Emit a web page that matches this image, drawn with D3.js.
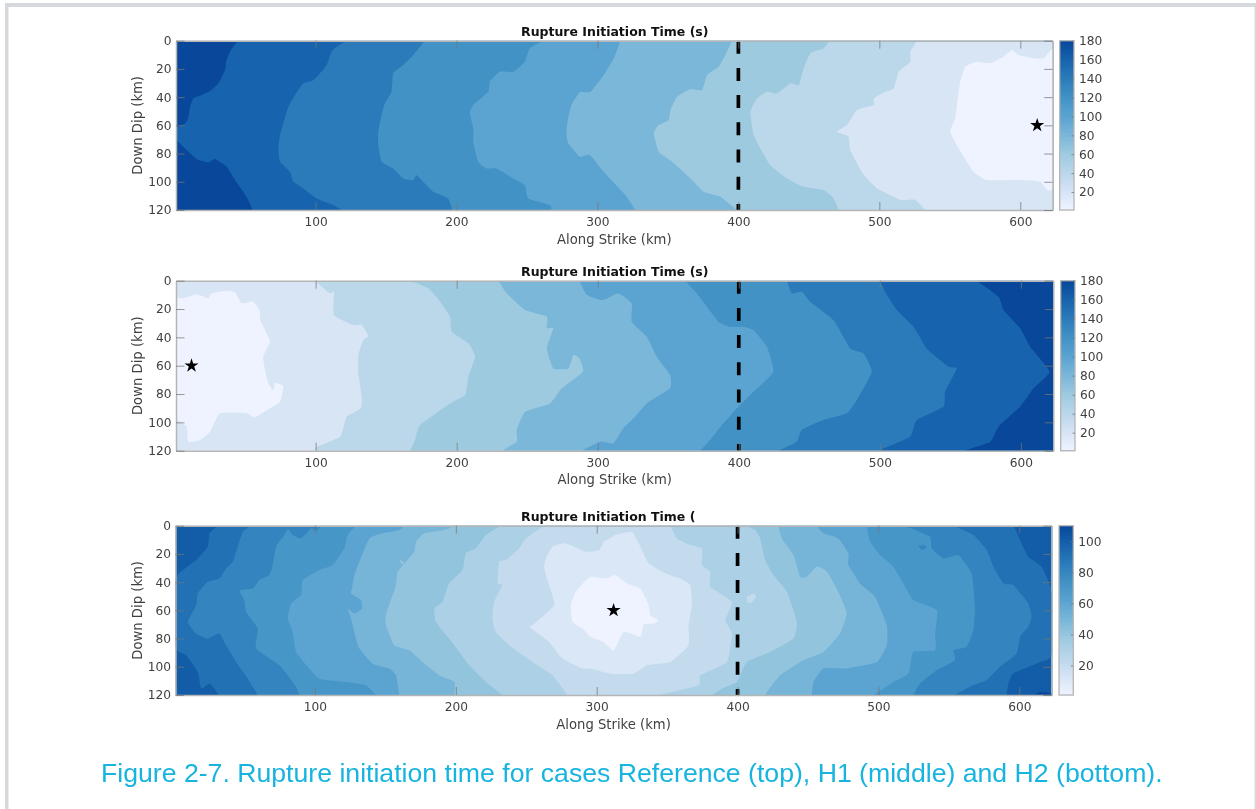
<!DOCTYPE html>
<html>
<head>
<meta charset="utf-8">
<script src="https://cdn.jsdelivr.net/npm/d3@7"></script>
<style>
  html, body { margin: 0; padding: 0; background: #fff; overflow: hidden; }
  #chart { width: 1256px; height: 809px; }
  svg { display: block; filter: blur(0.45px); }
  .axis text { font-family: "DejaVu Sans", sans-serif; font-size: 12.2px; fill: #404040; }
  .label { font-family: "DejaVu Sans", sans-serif; font-size: 13.2px; fill: #404040; }
  .title { font-family: "DejaVu Sans", sans-serif; font-size: 12.5px; font-weight: bold; fill: #111; }
  .caption { font-family: "Liberation Sans", sans-serif; font-size: 26.65px; fill: #18b4e0; }
  .axis path, .axis line { stroke: #777; stroke-opacity: 0.75; }
  .axis path { stroke: #b5b5b5; stroke-opacity: 1; stroke-width: 1.5; }
</style>
</head>
<body>
<div id="chart"></div>
<script>
'use strict';

const X_TICKS = [100, 200, 300, 400, 500, 600];
const Y_TICKS = [0, 20, 40, 60, 80, 100, 120];
const CBAR_TICKS_180 = [20, 40, 60, 80, 100, 120, 140, 160, 180];
const CBAR_TICKS_110 = [20, 40, 60, 80, 100];
const BLUES = ['#eff3ff', '#d6e4f5', '#bad6ea', '#9dcae0', '#7ab6d9', '#5aa3d1', '#4292c6', '#2b7bba', '#1763ad', '#08479a'];
const RIGHT_EDGE = [[623, 120], [623, 0]];
const SEGMENT_BOUNDARY_KM = 400;
const HYPOCENTRE_DEPTH = 60;

// Reference case: time levels and contour lines [along strike, down dip], from the left side
const refLevels = [160, 140, 120, 100, 80, 60, 40, 20];
const refLines = [
  [[44.7,0],[39.3,7.8],[36.5,14.9],[35.8,20.8],[31,30.3],[25,35.7],[19.2,38.5],[13.3,40.9],[11,46.8],[9.7,55],[7.4,58.6],[1,62],[1,69.7],[7.4,76.4],[15.7,83.9],[24,86.3],[28.7,83.9],[37,89.4],[42.8,98.8],[51,110.6],[55.4,120]],
  [[122,0],[115,4.3],[111.4,7.8],[107.9,17.2],[103.1,23.2],[98.4,28],[91.3,30.3],[85.4,38.5],[80.7,46.8],[77.1,58.6],[74.8,66.9],[73.6,76.4],[74.8,85.8],[81.8,92.9],[84.2,100],[91.3,104.7],[100.8,111.8],[112.6,116.5],[118.5,120]],
  [[177.6,0],[169.3,10.2],[162.2,17.3],[155.1,23.2],[153.9,36.2],[149.2,44.4],[146.9,52.7],[144.5,64.5],[144.5,73.9],[146.9,85.8],[155.1,90.6],[162.2,97.6],[169.3,98.8],[171.7,95.3],[178.8,102.4],[183.5,107],[194.1,111.8],[197,120]],
  [[261.5,0],[252,5.4],[248.5,14.9],[240.2,22],[230.8,22],[223.7,29],[222.5,36.2],[211.9,45.6],[209.5,51.5],[211.9,62.2],[211.9,71.6],[215.4,85.8],[221.3,90.6],[228.4,90.6],[240.2,97.6],[248.5,102.4],[250.9,111.8],[266.2,116.5],[267.4,120]],
  [[316.3,0],[311.6,12.5],[304.5,24.3],[295,36.2],[287.5,36.6],[281.6,45.6],[279.2,55],[278,64.5],[279.2,72.7],[287.5,82.2],[294.6,81],[304.5,93],[319.9,109.5],[327,120]],
  [[395.5,0],[390.8,10.2],[386,18.4],[377.8,24.3],[374.2,34.9],[366,34.2],[356.5,39.7],[351.8,49.1],[350.6,56.3],[343.5,59.8],[340,65.7],[343.5,78.7],[353,85.8],[366,97.6],[375.4,107],[387.2,110.6],[399,120]],
  [[464.5,0],[460.5,5.4],[451,9],[446.3,19.6],[442.8,31.4],[436.9,30.3],[427.4,37.4],[420.3,36.2],[413.2,40.9],[408.5,50.4],[410.9,66.9],[415.6,76.4],[422.7,88.2],[434.5,97.6],[446.3,103.5],[460.5,105.9],[467.6,111.8],[471.2,120]],
  [[526.7,0],[522,7.8],[522,14.9],[513.7,22],[510.2,33.8],[504.3,36.2],[496,40.9],[496,45.6],[484.2,49.2],[477.1,59.8],[470,64.5],[478.2,68],[479.4,77.4],[488.9,95.1],[498.3,104.5],[514.9,112.7],[525.5,112.7],[532.6,120]]
];
const refCore = [[623,5.4],[616.4,12.5],[609.3,12.5],[598.6,10.2],[594,6.6],[588,11.3],[578.6,16],[569.1,14.9],[561,18.4],[557.4,29],[555.1,45.6],[553.9,55],[550.3,64.5],[556.3,76.4],[566.9,92.9],[576.4,98.8],[600,98.8],[614.2,100],[618.9,105.9],[623,105.9]];

// H1 case
const h1Levels = [40, 60, 80, 100, 120, 140, 160, 180];
const h1Lines = [
  [[99.6,0],[110.2,8.9],[113,7.8],[113,24.3],[126.8,31.3],[132.7,31.3],[137.4,39],[133.9,41.9],[130.3,52.5],[130.3,65.4],[132.7,81.9],[132,90.2],[122,96],[117.3,110.1],[100.8,117.2],[99.6,120]],
  [[167,0],[180,5.4],[188.2,14.8],[195.3,25.4],[196.5,36],[208.3,44.2],[213,53.6],[208.3,67.8],[206,80.7],[195.3,86.6],[174,101.9],[170.5,112.5],[167,120]],
  [[229.6,0],[235.5,8.9],[248.5,20.7],[263.9,25.4],[263.9,33.6],[268.6,33.6],[263.9,47.8],[268.6,61.9],[279.2,61.9],[282.8,52.5],[287,54.8],[289.4,64.2],[274.5,76],[266.2,86.6],[248.5,92.5],[242.6,105.4],[242.6,113.6],[232,120]],
  [[287,0],[292.2,10],[301.7,13.6],[306.4,12.7],[314.7,8.9],[324.1,16],[324.1,29],[334.8,39.6],[341.8,53.6],[351.3,66.5],[351.3,76],[334.8,86.6],[326.5,96],[318.2,104.2],[311.1,114.8],[301.7,113.6],[288.7,120]],
  [[361.9,0],[370.2,8.9],[385.6,28.9],[393.9,32.5],[403.3,32.5],[410.4,34.8],[419.9,46.6],[424.6,64.2],[410.4,78.4],[399.8,88.9],[389.1,100.7],[379.7,112.5],[372.6,120]],
  [[434,0],[437.6,8.9],[444.7,7.8],[450.6,14.8],[467.1,27.8],[479,47.8],[488.4,51.3],[494.3,64.2],[483.7,84.2],[476.6,93.6],[460,98.4],[444.7,105.4],[441.1,113.6],[428.1,120]],
  [[500.2,0],[503.8,7.8],[512,20.7],[523.9,32.5],[533.3,47.8],[548.7,60.7],[554.6,61.9],[546.3,78.4],[545.1,88.9],[526.2,98.4],[521.5,110.1],[502.6,118.4],[502,120]],
  [[568.8,0],[584.2,11.3],[587.7,20.7],[599.5,33.6],[606.6,46.6],[620.3,64.2],[609,76],[599.5,88.9],[584.2,103],[578.3,113.6],[559.4,120]]
];
const h1Core = [[1,11.8],[6.2,12.5],[15.7,9.6],[23.9,12.5],[26.3,8.9],[36.9,7.1],[42.8,8.2],[47.6,16],[55.8,14.8],[60.6,21.9],[60.6,27.8],[64.1,34.8],[67.7,43],[62.9,53.6],[64.1,63.1],[66.5,72.5],[70,77.2],[71.2,72],[77.1,74.4],[74.8,85.4],[67.7,90.1],[57,96.5],[51.1,93.6],[32.2,93.6],[25.1,106.6],[18,112.5],[9.7,113.6],[8.6,103],[1,97.9]];

// H2 case: each level has a west and an east line, both listed from the top down
const h2Levels = [91, 81, 71, 61, 51, 41, 31, 21];
const h2West = [
  [[31,0],[25.1,5.4],[23.9,14.9],[15.7,24.4],[1,37.9],[1,85.9],[8.6,91.8],[16.8,103.7],[19.2,115.5],[25.1,112],[28.7,115.5],[31.5,120]],
  [[54.7,0],[48.8,4.3],[45.2,14.9],[41.7,25.6],[36.9,30.3],[32.2,37.4],[23.9,39.8],[16.8,48],[15.7,56.3],[9.7,68.2],[15.7,76.5],[23.9,80],[32.2,76.5],[36.9,84.8],[44,96.6],[52.3,108.4],[59.4,120]],
  [[104.3,0],[100.8,3.8],[97.2,1.9],[90.1,9],[84.2,6.6],[80.7,2.4],[78.3,6.6],[72.4,14.9],[70,27.9],[67.7,35],[60.6,38.6],[55.8,44.5],[46.4,45.7],[49.9,52.8],[51.1,61.1],[59.4,72.9],[58.2,87.1],[74.8,99],[86.6,114.3],[88.9,120]],
  [[129.1,0],[123.2,6.6],[120.9,16],[112.6,27.9],[103.1,31.4],[91.3,38.6],[90.1,49.2],[83,55.2],[80.7,65.8],[84.2,75.3],[86.6,89.5],[96,101.2],[103.1,108.4],[122,110.8],[136.2,113.1],[143.3,120]],
  [[163.4,0],[159.9,3],[148,5.4],[138.6,9],[131.5,25.6],[128,35],[126.3,44.5],[125.6,48],[132.7,52.8],[133.4,58.7],[128,62.3],[123.2,58.7],[125.6,65.8],[129.1,80],[131.5,87.1],[140.9,97.8],[152.8,101.3],[157.5,106],[159.9,120]],
  [[198.9,0],[191.8,3],[177.6,5.4],[171.7,11.4],[170.5,18.5],[164.6,25.6],[158.7,32.7],[157.5,42.2],[155.1,49.2],[150.4,63.4],[150.4,70.5],[156.3,84.7],[167,88.3],[176.4,96.6],[188.2,106],[198.9,110.8],[198.9,120]],
  [[232,0],[221.3,6.6],[214.2,16],[207.1,19.6],[204.8,31.4],[195.3,40.8],[190.6,53.9],[184.7,58.7],[185.9,68.2],[195.3,80],[202.4,89.5],[209.5,99],[221.3,110.8],[233.1,120]],
  [[262.7,0],[249.7,9],[245,16],[235.5,24.4],[230.8,25.6],[229.6,41],[233.1,42],[227.2,53.9],[226,65.8],[228.4,75.3],[237.9,84.7],[254.4,96.6],[268.6,106],[279.2,120]]
];
const h2East = [
  [[596.2,0],[600.5,10.2],[606.4,22],[615.8,29.1],[623,46.8],[623,91.7],[612.3,97.7],[595.7,104.7],[592.2,111.8],[591,120]],
  [[553.2,0],[567.4,6.6],[576.8,17.3],[581.6,29.1],[588.7,40.9],[595.7,42.1],[606.4,55.1],[608.7,64.6],[606.4,71.6],[600.5,78.7],[598.1,90.6],[586.3,100],[576.8,109.5],[567.4,113],[554.4,120]],
  [[515.4,0],[523.6,1.9],[536.6,7.8],[537.8,16],[546.1,23.2],[556.7,20.8],[566.2,33.8],[568.6,57.5],[567.4,74],[562.6,85.8],[553.2,88.2],[554.4,95.3],[541.4,102.4],[529.6,111.8],[524.8,120]],
  [[491.7,0],[494.1,11.4],[501.2,20.8],[510.6,29.1],[517.7,40.9],[524.8,52.7],[541.4,59.8],[540.2,76.4],[540.2,88.2],[524.8,89.4],[521.3,104.7],[510.6,110.7],[496.5,120]],
  [[456.3,0],[461,5.4],[471.6,9],[478.7,19.6],[478.7,27.9],[487,40.9],[497.6,50.4],[505.9,70.5],[505.9,84.7],[498.8,96.6],[477.5,101.2],[461,101.2],[453.9,110.7],[452.7,120]],
  [[429,0],[431.4,9],[439.7,20.8],[444.4,36.2],[449.2,36.2],[456.3,29],[463.4,32.5],[471.6,47],[477.5,62],[472.8,76.4],[461,89.5],[446.8,95.4],[430.3,106],[420.8,118],[419.6,120]],
  [[405.4,0],[412.5,3],[416.1,9],[419.6,24.4],[425.5,35],[435,46.9],[442.1,68.2],[439.7,80],[423.2,89.5],[406.6,96.6],[399.5,110.8],[390,115],[381.8,120]],
  [[352.2,0],[357,9],[366.4,13.7],[374.7,16.1],[374.7,27.9],[380.6,32.7],[380.6,43.3],[396,54],[391.3,67],[396,76.5],[392.4,96.6],[373.5,106],[372.3,113.1],[344,120]]
];
// closed rings around the hypocentre
const h2RingLevels = [11, 1];
const h2Rings = [
  [[313.2,6.6],[325.1,4.3],[331,14.9],[336.9,26.7],[348.7,33.8],[359.3,37.4],[366.4,42.1],[367.6,56.3],[365.2,70.5],[365.2,84.7],[352.2,96.6],[335.7,98.9],[326.2,104.9],[309.7,104.9],[295.5,101.3],[290,101.3],[275.7,94.2],[266.2,82.4],[252.1,71.7],[254.4,70.5],[269.8,56.3],[266.2,42.1],[262.7,30.3],[263.9,23.2],[268.6,14.9],[278,12.5],[292.2,18.5],[301.7,17.3],[305,11.4]],
  [[295.5,36.2],[307.3,37.4],[313.2,35],[321.5,40.9],[331,44.5],[336.9,56.3],[338.1,63.4],[343.9,67],[340.4,69.4],[333.3,70],[331,78.8],[319.2,75.3],[312.1,88.3],[304.9,82.4],[295.5,78.8],[290,72.9],[282.8,68.2],[281.6,56.3],[285.2,46.9],[292.2,38.6]]
];
// small isolated patches
const h2PatchLevels = [21, 81, 41, 110];
const h2Patches = [
  [[406.6,50.4],[411.3,48],[413.2,50.4],[410.1,54.4],[407,54.4]],
  [[528.4,14.4],[531.9,13.7],[534.3,15.4],[530.7,17.3]],
  [[160.3,24.4],[163.4,25.6],[162.2,27.5],[160.5,26.1]],
  [[611,120],[614,117.8],[619,118],[623,119],[623,120]]
];

const panels = [
  {
    title: 'Rupture Initiation Time (s)', box: { left: 176, right: 1052.7, top: 40.7, bottom: 210 },
    bar: { left: 1059.7, right: 1074 }, barMax: 180, barTicks: CBAR_TICKS_180,
    base: 180, star: 612,
    fills: refLines.map((l, i) => ({ level: refLevels[i], pieces: [l, RIGHT_EDGE] }))
      .concat([{ level: 1, pieces: [refCore] }])
  },
  {
    title: 'Rupture Initiation Time (s)', box: { left: 176, right: 1053.3, top: 280.7, bottom: 450.7 },
    bar: { left: 1060.7, right: 1075 }, barMax: 180, barTicks: CBAR_TICKS_180,
    base: 20, star: 12,
    fills: h1Lines.map((l, i) => ({ level: h1Levels[i], pieces: [l, RIGHT_EDGE] }))
      .concat([{ level: 1, pieces: [h1Core] }])
  },
  {
    title: 'Rupture Initiation Time (', box: { left: 175.5, right: 1051.7, top: 525.7, bottom: 695 },
    bar: { left: 1059, right: 1073.3 }, barMax: 110, barTicks: CBAR_TICKS_110,
    base: 101, star: 312,
    fills: h2West.map((l, i) => ({ level: h2Levels[i], pieces: [l, h2East[i].slice().reverse()] }))
      .concat(h2Rings.map((r, i) => ({ level: h2RingLevels[i], pieces: [r] })))
      .concat(h2Patches.map((p, i) => ({ level: h2PatchLevels[i], pieces: [p] })))
  }
];

const svg = d3.select('#chart').append('svg').attr('width', 1256).attr('height', 809);

// slide frame behind the figure
svg.append('rect').attr('x', 0).attr('y', 3).attr('width', 1256).attr('height', 4).attr('fill', '#d5d9dd');
svg.append('rect').attr('x', 5).attr('y', 3).attr('width', 3.5).attr('height', 806).attr('fill', '#d5d9dd');
svg.append('rect').attr('x', 1254.5).attr('y', 3).attr('width', 1.5).attr('height', 806).attr('fill', '#d5d9dd');
svg.append('rect').attr('x', 0).attr('y', 0).attr('width', 5).attr('height', 809).attr('fill', '#fff');

panels.forEach(drawPanel);

svg.append('text')
  .attr('class', 'caption')
  .attr('x', 101).attr('y', 782)
  .text('Figure 2-7. Rupture initiation time for cases Reference (top), H1 (middle) and H2 (bottom).');

function drawPanel(panel, idx) {
  const b = panel.box;
  const x = d3.scaleLinear().domain([1, 623]).range([b.left, b.right]);
  const y = d3.scaleLinear().domain([0, 120]).range([b.top, b.bottom]);
  const color = d3.scaleLinear()
    .domain(BLUES.map((_, i) => 1 + (panel.barMax - 1) * i / (BLUES.length - 1)))
    .range(BLUES);

  const line = d3.line().x(d => x(d[0])).y(d => y(d[1])).curve(d3.curveCardinal.tension(0.55));
  const toPath = pieces => pieces.map((p, i) => (i ? 'L' + line(p).slice(1) : line(p))).join('') + 'Z';

  const clipId = `plot-clip-${idx}`;
  svg.append('clipPath').attr('id', clipId).append('rect')
    .attr('x', b.left).attr('y', b.top)
    .attr('width', b.right - b.left).attr('height', b.bottom - b.top);

  const g = svg.append('g');
  const plot = g.append('g').attr('clip-path', `url(#${clipId})`);

  plot.append('rect')
    .attr('x', x(1)).attr('y', y(0))
    .attr('width', x(623) - x(1)).attr('height', y(120) - y(0))
    .attr('fill', color(panel.base));

  plot.selectAll('path.band')
    .data(panel.fills)
    .join('path')
    .attr('class', 'band')
    .attr('fill', d => color(d.level))
    .attr('d', d => toPath(d.pieces));

  plot.append('line')
    .attr('x1', x(SEGMENT_BOUNDARY_KM)).attr('x2', x(SEGMENT_BOUNDARY_KM))
    .attr('y1', y(0)).attr('y2', y(120))
    .attr('stroke', '#000').attr('stroke-width', 3.7)
    .attr('stroke-dasharray', '13 14.2');

  plot.append('path')
    .attr('d', d3.symbol(d3.symbolStar, 62)())
    .attr('transform', `translate(${x(panel.star)},${y(HYPOCENTRE_DEPTH)})`)
    .attr('fill', '#000');

  g.append('g').attr('class', 'axis')
    .attr('transform', `translate(0,${b.bottom})`)
    .call(d3.axisBottom(x).tickValues(X_TICKS).tickSizeInner(-8).tickSizeOuter(0).tickPadding(7.5));
  g.append('g').attr('class', 'axis')
    .attr('transform', `translate(0,${b.top})`)
    .call(d3.axisTop(x).tickValues(X_TICKS).tickSizeInner(-8).tickSizeOuter(0).tickFormat(''));
  g.append('g').attr('class', 'axis')
    .attr('transform', `translate(${b.left},0)`)
    .call(d3.axisLeft(y).tickValues(Y_TICKS).tickSizeInner(-8.5).tickSizeOuter(0).tickPadding(4.5));
  g.append('g').attr('class', 'axis')
    .attr('transform', `translate(${b.right},0)`)
    .call(d3.axisRight(y).tickValues(Y_TICKS).tickSizeInner(-8.5).tickSizeOuter(0).tickFormat(''));

  const midX = (b.left + b.right) / 2;
  g.append('text').attr('class', 'title')
    .attr('x', 521).attr('y', b.top - 4.5)
    .text(panel.title);
  g.append('text').attr('class', 'label')
    .attr('x', midX).attr('y', b.bottom + 33.5)
    .attr('text-anchor', 'middle')
    .text('Along Strike (km)');
  g.append('text').attr('class', 'label')
    .attr('transform', `translate(${b.left - 34},${(b.top + b.bottom) / 2}) rotate(-90)`)
    .attr('text-anchor', 'middle')
    .text('Down Dip (km)');

  // colorbar
  const BAR_STEPS = 128;
  const cy = d3.scaleLinear().domain([1, panel.barMax]).range([b.bottom, b.top]);
  const steps = d3.range(BAR_STEPS).map(i => 1 + (panel.barMax - 1) * i / BAR_STEPS);
  const bar = g.append('g');
  bar.selectAll('rect')
    .data(steps)
    .join('rect')
    .attr('x', panel.bar.left)
    .attr('width', panel.bar.right - panel.bar.left)
    .attr('y', d => cy(d + (panel.barMax - 1) / BAR_STEPS))
    .attr('height', (b.bottom - b.top) / BAR_STEPS + 1)
    .attr('shape-rendering', 'crispEdges')
    .attr('fill', d => color(d));
  bar.append('rect')
    .attr('x', panel.bar.left).attr('y', b.top)
    .attr('width', panel.bar.right - panel.bar.left).attr('height', b.bottom - b.top)
    .attr('fill', 'none').attr('stroke', '#b5b5b5').attr('stroke-width', 1.3);
  g.append('g').attr('class', 'axis')
    .attr('transform', `translate(${panel.bar.right},0)`)
    .call(d3.axisRight(cy).tickValues(panel.barTicks).tickSizeInner(-2.5).tickSizeOuter(0).tickPadding(5))
    .call(a => a.select('.domain').remove());
}
</script>
</body>
</html>
